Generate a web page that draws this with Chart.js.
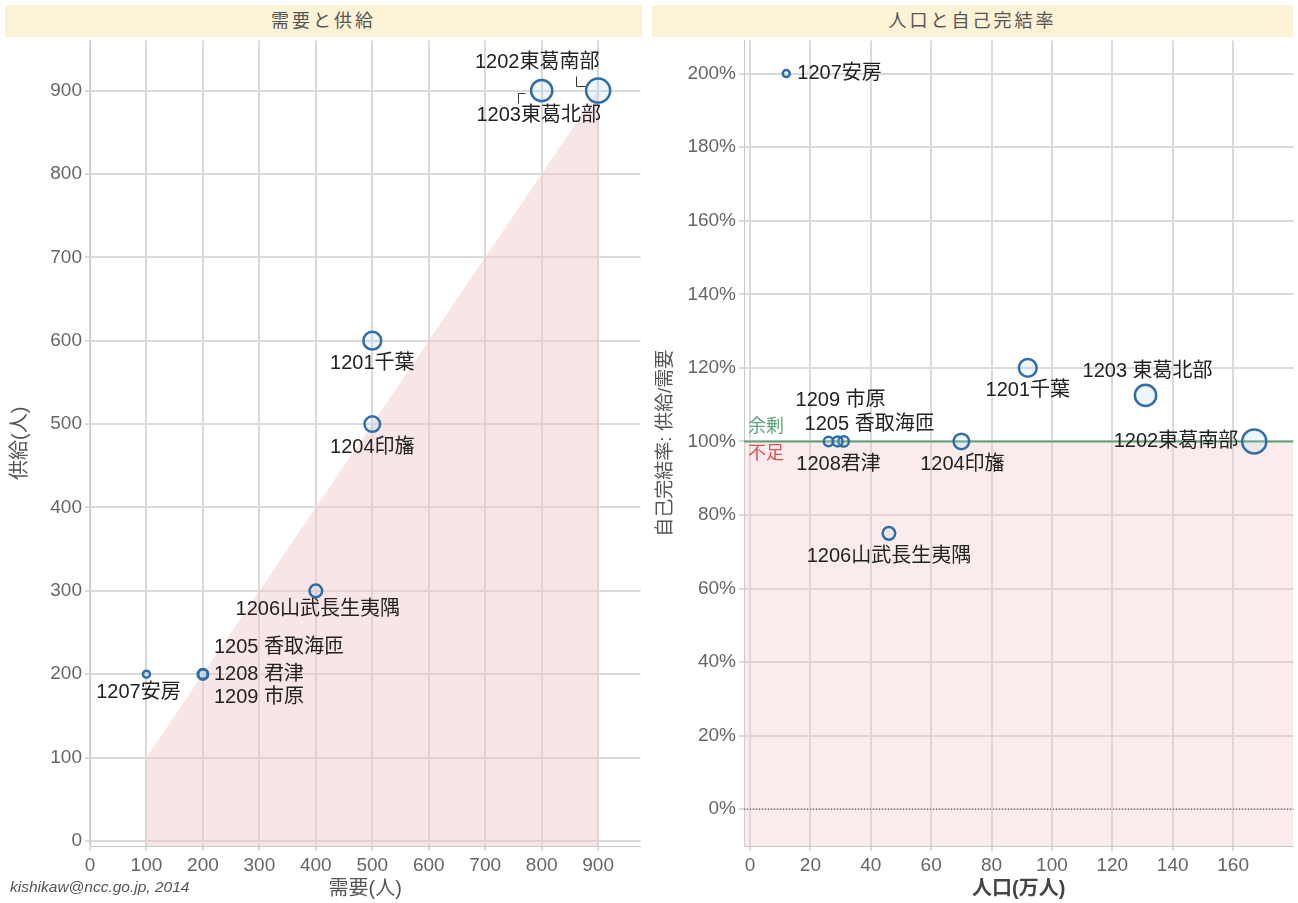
<!DOCTYPE html>
<html>
<head>
<meta charset="utf-8">
<script src="https://cdn.jsdelivr.net/npm/chart.js@4/dist/chart.umd.min.js"></script>
<style>
  body { margin: 0; background: #fff; overflow: hidden; font-family: "Liberation Sans", "Noto Sans CJK JP", sans-serif; }
  .bar { position: absolute; top: 5px; height: 32px; background: #fcf2d6; color: #555; font-size: 18px; letter-spacing: 3px; line-height: 32px; text-align: center; z-index: 2; }
  .box { position: absolute; top: 26px; height: 877px; }
  #foot { position: absolute; left: 10px; top: 878px; font-size: 15.5px; font-style: italic; color: #555; }
</style>
</head>
<body>
<div class="bar" style="left:5px;width:637px">需要と供給</div>
<div class="bar" style="left:652px;width:641px">人口と自己完結率</div>
<div class="box" style="left:0;width:655px"><canvas id="left"></canvas></div>
<div class="box" style="left:648px;width:660px"><canvas id="right"></canvas></div>
<div id="foot">kishikaw@ncc.go.jp, 2014</div>
<script>
// 二次医療圏
const areas = ['1201', '1202', '1203', '1204', '1205', '1206', '1207', '1208', '1209'];
const leftLabels = ['1201千葉', '1202東葛南部', '1203東葛北部', '1204印旛', '1205 香取海匝', '1206山武長生夷隅', '1207安房', '1208 君津', '1209 市原'];
const rightLabels = ['1201千葉', '1202東葛南部', '1203 東葛北部', '1204印旛', '1205 香取海匝', '1206山武長生夷隅', '1207安房', '1208君津', '1209 市原'];
const demand = [500, 900, 800, 500, 200, 400, 100, 200, 200];   // 人
const supply = [600, 900, 900, 500, 200, 300, 200, 200, 200];   // 人
const population = [92, 167, 131, 70, 31, 46, 12, 26, 29];      // 万人
const selfRate = [120, 100, 112.5, 100, 100, 75, 200, 100, 100]; // %
const demandTicks = [0, 100, 200, 300, 400, 500, 600, 700, 800, 900];
const supplyTicks = [0, 100, 200, 300, 400, 500, 600, 700, 800, 900];
const popTicks = [0, 20, 40, 60, 80, 100, 120, 140, 160];
const rateTicks = [0, 20, 40, 60, 80, 100, 120, 140, 160, 180, 200];

const radius = p => Math.max(3.5, 0.93 * Math.sqrt(p));

const FONT = '"Liberation Sans", "Noto Sans CJK JP", sans-serif';
const gridColor = '#dadada';
const tickColor = '#666';

const labelPlugin = {
  id: 'pointLabels',
  afterDatasetsDraw(chart, args, opts) {
    const meta = chart.getDatasetMeta(0);
    const ctx = chart.ctx;
    ctx.save();
    ctx.font = '20px ' + FONT;
    ctx.fillStyle = '#222';
    ctx.textBaseline = 'middle';
    meta.data.forEach((pt, i) => {
      const o = opts.offsets[i];
      ctx.textAlign = o[2] || 'center';
      ctx.fillText(opts.labels[i], pt.x + o[0], pt.y + o[1]);
    });
    ctx.strokeStyle = '#333';
    ctx.lineWidth = 1;
    (opts.leaders || []).forEach(l => {
      const pt = meta.data[l.i];
      ctx.beginPath();
      l.pts.forEach((p, k) => {
        const x = Math.round(pt.x + p[0]) + 0.5, y = Math.round(pt.y + p[1]) + 0.5;
        k ? ctx.lineTo(x, y) : ctx.moveTo(x, y);
      });
      ctx.stroke();
    });
    if (opts.extra) opts.extra(chart, ctx);
    ctx.restore();
  }
};

function keepTicks(list) {
  return scale => { scale.ticks = list.map(v => ({ value: v })); };
}

function fixSize(w, h) {
  return s => {
    if (w) s.width = w;
    if (h) s.height = h;
  };
}

function axis(title, min, max, ticks, opts) {
  return Object.assign({
    type: 'linear', min: min, max: max,
    afterBuildTicks: keepTicks(ticks),
    grid: { color: gridColor, lineWidth: 2, tickLength: 5, tickColor: gridColor },
    border: { color: '#c8c8c8', width: 1 },
    ticks: { color: tickColor, font: { size: 19, family: FONT }, padding: 3 },
    title: { display: true, text: title, color: '#555', font: { size: 20, family: FONT }, padding: 2 }
  }, opts || {});
}

const bubbleStyle = {
  borderColor: '#2f6ea5',
  backgroundColor: 'rgba(170,205,235,0.2)',
  borderWidth: 2.5
};

// 左: 需要と供給
new Chart(document.getElementById('left'), {
  type: 'bubble',
  data: {
    datasets: [
      Object.assign({
        label: '医療圏',
        data: areas.map((a, i) => ({ x: demand[i], y: supply[i], r: radius(population[i]) })),
        order: 0
      }, bubbleStyle),
      {
        type: 'line',
        label: '不足域',
        data: [{ x: 100, y: 100 }, { x: 900, y: 900 }],
        fill: 'start',
        backgroundColor: 'rgba(240,200,200,0.45)',
        borderWidth: 0,
        pointRadius: 0,
        order: 2
      }
    ]
  },
  options: {
    responsive: true,
    maintainAspectRatio: false,
    animation: false,
    layout: { padding: { top: 2, right: 5, left: 0, bottom: 0 } },
    plugins: {
      legend: { display: false },
      tooltip: { enabled: false },
      pointLabels: {
        labels: leftLabels,
        offsets: [[0, 23], [-61, -28], [-3, 25], [0, 23], [11, -27, 'left'], [2, 19], [-8, 18], [11, 0, 'left'], [11, 23, 'left']],
        leaders: [
          { i: 1, pts: [[-22, -15], [-22, -5], [-13, -5]] },
          { i: 2, pts: [[-24, 12], [-24, 2], [-17, 2]] }
        ]
      }
    },
    scales: {
      x: axis('需要(人)', 0, 975, demandTicks, { afterFit: fixSize(0, 57) }),
      y: axis('供給(人)', -6, 960, supplyTicks, {
        afterFit: fixSize(90, 0),
        title: { display: true, text: '供給(人)', color: '#555', font: { size: 20, family: FONT }, padding: { top: 8, bottom: 2 } }
      })
    }
  },
  plugins: [labelPlugin]
});

// 右: 人口と自己完結率
new Chart(document.getElementById('right'), {
  type: 'bubble',
  data: {
    datasets: [
      Object.assign({
        label: '医療圏',
        data: areas.map((a, i) => ({ x: population[i], y: selfRate[i], r: radius(population[i]) })),
        order: 0
      }, bubbleStyle),
      {
        type: 'line',
        label: '100%',
        data: [{ x: -2, y: 100 }, { x: 180, y: 100 }],
        fill: 'start',
        backgroundColor: 'rgba(240,200,200,0.35)',
        borderColor: '#5f9f78',
        borderWidth: 2,
        pointRadius: 0,
        order: 2
      },
      {
        type: 'line',
        label: '0%',
        data: [{ x: -2, y: 0 }, { x: 180, y: 0 }],
        borderColor: '#444',
        borderWidth: 1,
        borderDash: [1, 2],
        pointRadius: 0,
        fill: false,
        order: 1
      }
    ]
  },
  options: {
    responsive: true,
    maintainAspectRatio: false,
    animation: false,
    layout: { padding: { top: 2, right: 5, left: 0, bottom: 0 } },
    plugins: {
      legend: { display: false },
      tooltip: { enabled: false },
      pointLabels: {
        labels: rightLabels,
        offsets: [[0, 23], [-16, 0, 'right'], [2, -24], [1, 23], [26, -17], [0, 23], [11, 0, 'left'], [10, 23], [3, -41]],
        extra: (chart, ctx) => {
          const y = chart.scales.y.getPixelForValue(100);
          const x = chart.chartArea.left + 4;
          ctx.textAlign = 'left';
          ctx.font = '18px ' + FONT;
          ctx.fillStyle = '#5fa57a';
          ctx.fillText('余剰', x, y - 14);
          ctx.fillStyle = '#d9534f';
          ctx.fillText('不足', x, y + 13);
        }
      }
    },
    scales: {
      x: axis('人口(万人)', -2, 180, popTicks, {
        afterFit: fixSize(0, 57),
        title: { display: true, text: '人口(万人)', color: '#444', font: { size: 20, family: FONT, weight: 'bold' }, padding: 2 }
      }),
      y: axis('自己完結率: 供給/需要', -10, 209, rateTicks, {
        afterFit: fixSize(96, 0),
        ticks: { color: tickColor, font: { size: 19, family: FONT }, padding: 3, callback: v => v + '%' },
        title: { display: true, text: '自己完結率: 供給/需要', color: '#555', font: { size: 19, family: FONT }, padding: { top: 6, bottom: 2 } }
      })
    }
  },
  plugins: [labelPlugin]
});
</script>
</body>
</html>
